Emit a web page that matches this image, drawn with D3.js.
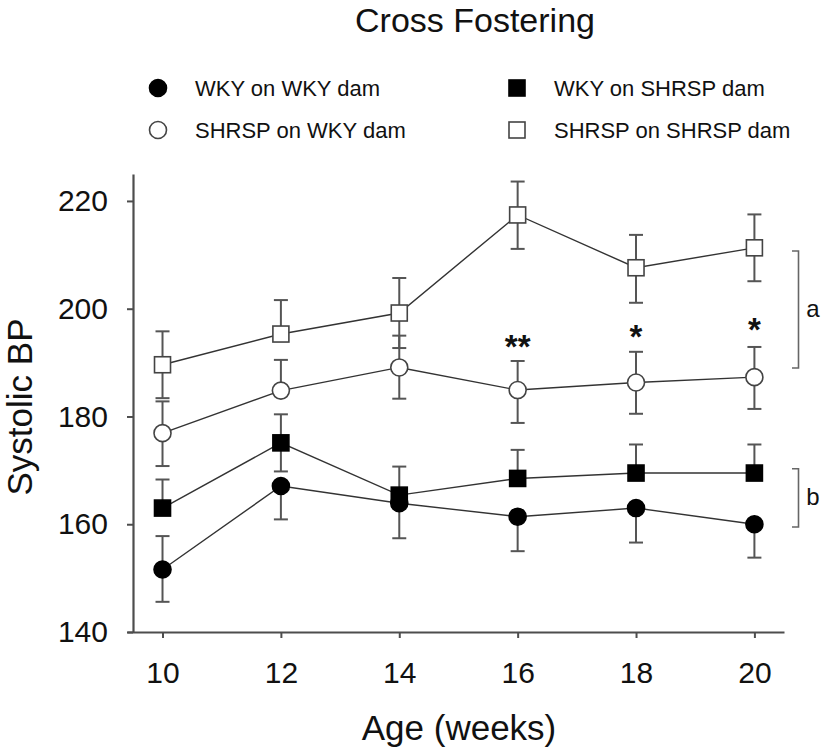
<!DOCTYPE html>
<html><head><meta charset="utf-8">
<script src="https://cdn.jsdelivr.net/npm/d3@7"></script>
<style>
html,body{margin:0;padding:0;background:#fff;}
svg{display:block;font-family:"Liberation Sans",Arial,sans-serif;}
</style></head>
<body>
<svg id="chart" width="825" height="750"></svg>
<script>
// ---- data ----
const weeks = [10, 12, 14, 16, 18, 20];
const yTicks = [140, 160, 180, 200, 220];

const wkyOnWky      = [151.6, 167.1, 163.9, 161.4, 163.0, 160.0];
const wkyOnWkyUp    = [6.2, 0, 0, 0, 0, 0];
const wkyOnWkyDown  = [6.0, 6.2, 6.5, 6.4, 6.4, 6.2];

const wkyOnShrsp     = [163.0, 175.1, 165.4, 168.5, 169.5, 169.5];
const wkyOnShrspUp   = [5.3, 5.3, 5.3, 5.3, 5.3, 5.3];
const wkyOnShrspDown = [0, 5.3, 0, 0, 0, 0];

const shrspOnWky     = [176.9, 184.8, 189.1, 184.9, 186.3, 187.3];
const shrspOnWkyUp   = [5.9, 5.7, 5.9, 5.4, 5.7, 5.6];
const shrspOnWkyDown = [6.1, 0, 5.8, 6.1, 5.8, 5.9];

const shrspOnShrsp     = [189.6, 195.3, 199.2, 217.4, 207.6, 211.3];
const shrspOnShrspUp   = [6.2, 6.3, 6.5, 6.2, 6.1, 6.2];
const shrspOnShrspDown = [6.2, 0, 6.5, 6.3, 6.5, 6.2];

const seriesNames = ["WKY on WKY dam", "WKY on SHRSP dam", "SHRSP on WKY dam", "SHRSP on SHRSP dam"];
const starWeeks = [16, 18, 20];
const starLabels = ["**", "*", "*"];
const starValues = [194.4, 196.2, 197.5];
const bracketLabels = ["a", "b"];
const bracketLow = [189.0, 159.5];
const bracketHigh = [210.7, 170.3];

// ---- build ----
const series = [
  {name: seriesNames[0], v: wkyOnWky, up: wkyOnWkyUp, dn: wkyOnWkyDown, shape: "circle", filled: true},
  {name: seriesNames[1], v: wkyOnShrsp, up: wkyOnShrspUp, dn: wkyOnShrspDown, shape: "square", filled: true},
  {name: seriesNames[2], v: shrspOnWky, up: shrspOnWkyUp, dn: shrspOnWkyDown, shape: "circle", filled: false},
  {name: seriesNames[3], v: shrspOnShrsp, up: shrspOnShrspUp, dn: shrspOnShrspDown, shape: "square", filled: false}
];

const svg = d3.select("#chart");
const x = d3.scaleLinear().domain([9.4, 20.5]).range([127, 784]);
const y = d3.scaleLinear().domain([140, 225]).range([632, 174]);
const axisColor = "#4d4d4d";

// title
svg.append("text").attr("x", 475).attr("y", 32).attr("text-anchor", "middle")
  .attr("font-size", 34).attr("fill", "#111").text("Cross Fostering");

// legend
const legendPos = [[158, 88], [517, 88], [158, 130], [517, 130]];
function drawMarker(g, shape, filled, cx, cy) {
  if (shape === "circle") {
    g.append("circle").attr("cx", cx).attr("cy", cy).attr("r", 8.5)
      .attr("fill", filled ? "#000" : "#fff").attr("stroke", filled ? "#000" : "#444").attr("stroke-width", 1.6);
  } else {
    g.append("rect").attr("x", cx - 8).attr("y", cy - 8).attr("width", 16).attr("height", 16)
      .attr("fill", filled ? "#000" : "#fff").attr("stroke", filled ? "#000" : "#444").attr("stroke-width", 1.6);
  }
}
const lg = svg.append("g");
series.forEach((s, i) => {
  const [lx, ly] = legendPos[i];
  drawMarker(lg, s.shape, s.filled, lx, ly);
  lg.append("text").attr("x", lx + 37).attr("y", ly).attr("dy", "0.36em")
    .attr("font-size", 22).attr("fill", "#111").text(s.name);
});

// axes
const yAxis = d3.axisLeft(y).tickValues(yTicks).tickSize(6).tickSizeOuter(0).tickPadding(19);
const gy = svg.append("g").attr("transform", "translate(133,0)").call(yAxis);
gy.selectAll("text").attr("font-size", 30).attr("fill", "#111").attr("font-family", "Liberation Sans, Arial, sans-serif");
gy.selectAll("line").attr("stroke", axisColor).attr("stroke-width", 2);
gy.select(".domain").attr("stroke", axisColor).attr("stroke-width", 2.2);

const xAxis = d3.axisBottom(x).tickValues(weeks).tickSize(6).tickSizeOuter(0).tickPadding(24);
const gx = svg.append("g").attr("transform", "translate(0,632)").call(xAxis);
gx.selectAll("text").attr("font-size", 30).attr("fill", "#111").attr("font-family", "Liberation Sans, Arial, sans-serif");
gx.selectAll("line").attr("stroke", axisColor).attr("stroke-width", 2);
gx.select(".domain").attr("stroke", axisColor).attr("stroke-width", 2.2);

// axis titles
svg.append("text").attr("x", 459).attr("y", 740).attr("text-anchor", "middle")
  .attr("font-size", 35).attr("fill", "#111").text("Age (weeks)");
svg.append("text").attr("transform", "translate(32,407) rotate(-90)").attr("text-anchor", "middle")
  .attr("font-size", 35).attr("fill", "#111").text("Systolic BP");

// series
const line = d3.line().x((d, i) => x(weeks[i])).y(d => y(d));
const plot = svg.append("g");
series.forEach(s => {
  plot.append("path").attr("d", line(s.v)).attr("fill", "none")
    .attr("stroke", "#333").attr("stroke-width", 1.4);
});
series.forEach(s => {
  const g = plot.append("g");
  s.v.forEach((v, i) => {
    const cx = x(weeks[i]);
    const ends = [];
    if (s.up[i] > 0) ends.push(v + s.up[i]);
    if (s.dn[i] > 0) ends.push(v - s.dn[i]);
    ends.forEach(e => {
      g.append("line").attr("x1", cx).attr("x2", cx).attr("y1", y(v)).attr("y2", y(e))
        .attr("stroke", "#555").attr("stroke-width", 2);
      g.append("line").attr("x1", cx - 7).attr("x2", cx + 7).attr("y1", y(e)).attr("y2", y(e))
        .attr("stroke", "#555").attr("stroke-width", 2);
    });
  });
});
series.forEach(s => {
  const g = plot.append("g");
  s.v.forEach((v, i) => drawMarker(g, s.shape, s.filled, x(weeks[i]), y(v)));
});

// significance stars
starWeeks.forEach((w, i) => {
  svg.append("text").attr("x", x(w)).attr("y", y(starValues[i]) + 19)
    .attr("text-anchor", "middle").attr("font-size", 33).attr("font-weight", "bold")
    .attr("fill", "#111").text(starLabels[i]);
});

// brackets
bracketLabels.forEach((lab, i) => {
  const y1 = y(bracketHigh[i]), y2 = y(bracketLow[i]);
  svg.append("path").attr("d", `M792,${y1}H798.5V${y2}H792`).attr("fill", "none")
    .attr("stroke", "#666").attr("stroke-width", 1.6);
  svg.append("text").attr("x", 813).attr("y", (y1 + y2) / 2).attr("dy", "0.3em")
    .attr("text-anchor", "middle").attr("font-size", 24).attr("fill", "#111").text(lab);
});
</script>
</body></html>
